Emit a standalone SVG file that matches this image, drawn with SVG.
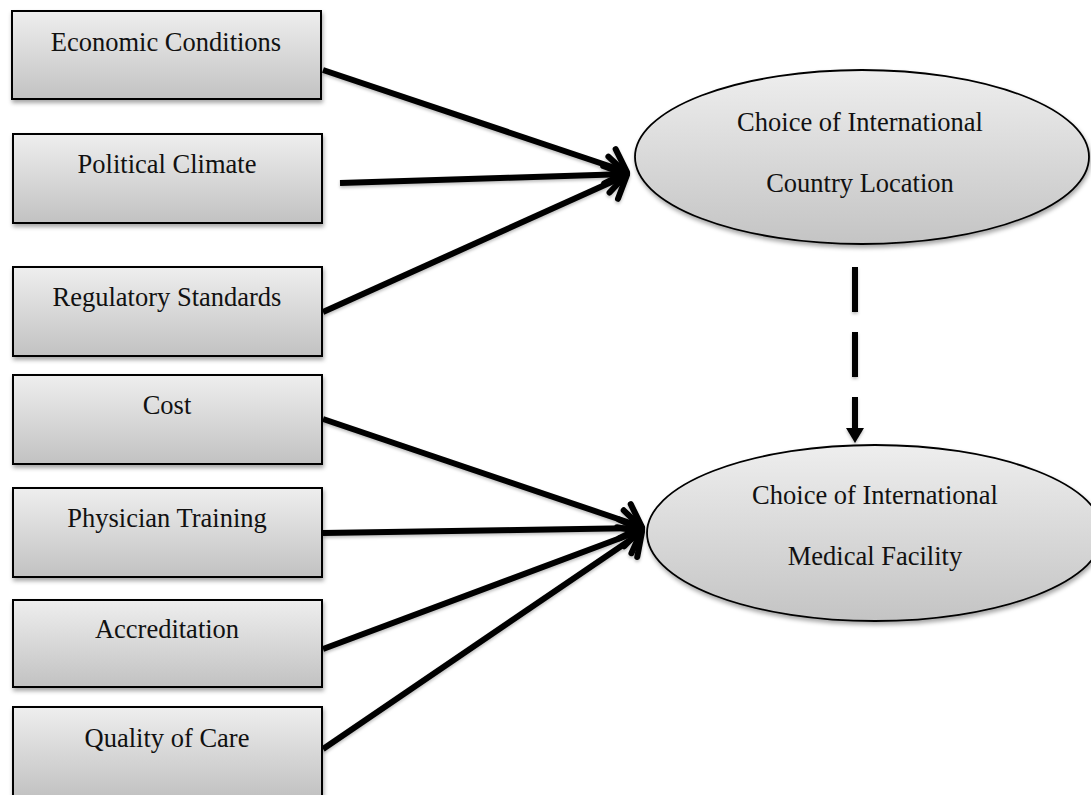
<svg xmlns="http://www.w3.org/2000/svg" width="1091" height="795" viewBox="0 0 1091 795">
  <defs>
    <linearGradient id="boxGrad" x1="0" y1="0" x2="0" y2="1">
      <stop offset="0" stop-color="#eeeeee"/>
      <stop offset="1" stop-color="#c2c2c2"/>
    </linearGradient>
    <linearGradient id="ellGrad" x1="0" y1="0" x2="0" y2="1">
      <stop offset="0" stop-color="#eeeeee"/>
      <stop offset="1" stop-color="#c4c4c4"/>
    </linearGradient>
    <filter id="shadow" x="-10%" y="-10%" width="125%" height="130%">
      <feDropShadow dx="1" dy="3" stdDeviation="2" flood-color="#000" flood-opacity="0.35"/>
    </filter>
    <filter id="lshadow" x="-10%" y="-20%" width="125%" height="140%">
      <feDropShadow dx="0" dy="2" stdDeviation="1.5" flood-color="#000" flood-opacity="0.25"/>
    </filter>
    <marker id="chev" markerUnits="userSpaceOnUse" viewBox="0 0 30 40" refX="24" refY="20" markerWidth="30" markerHeight="40" orient="auto" overflow="visible">
      <path d="M6,2 L24,20 L6,38" fill="none" stroke="#000" stroke-width="6" stroke-linecap="round" stroke-linejoin="round"/>
    </marker>
    <marker id="tri" markerUnits="userSpaceOnUse" viewBox="0 0 16 18" refX="0" refY="9" markerWidth="16" markerHeight="18" orient="auto" overflow="visible">
      <path d="M0,0 L15,9 L0,18 Z" fill="#000"/>
    </marker>
  </defs>
  <style>
    .box { fill: url(#boxGrad); stroke: #000; stroke-width: 2; filter: url(#shadow); }
    .ell { fill: url(#ellGrad); stroke: #000; stroke-width: 1.8; filter: url(#shadow); }
    .lbl { font-family: "Liberation Serif", "Times New Roman", serif; font-size: 26.5px; fill: #111; text-anchor: middle; }
    .conn { stroke: #000; stroke-width: 6; fill: none; marker-end: url(#chev); }
    .dash { stroke: #000; stroke-width: 6; fill: none; stroke-dasharray: 45 20; marker-end: url(#tri); }
  </style>
  <rect width="1091" height="795" fill="#ffffff"/>

  <g id="connectors" filter="url(#lshadow)">
    <line class="conn" x1="323" y1="70" x2="627" y2="172"/>
    <line class="conn" x1="340" y1="183" x2="627" y2="174"/>
    <line class="conn" x1="323" y1="312" x2="627" y2="175"/>
    <line class="conn" x1="323" y1="419" x2="642" y2="527"/>
    <line class="conn" x1="323" y1="533" x2="642" y2="528"/>
    <line class="conn" x1="323" y1="649" x2="642" y2="530"/>
    <line class="conn" x1="323" y1="749" x2="642" y2="532"/>
    <line class="dash" x1="855" y1="267" x2="855" y2="428"/>
  </g>

  <g id="node-economic">
    <rect class="box" x="12" y="11" width="309" height="88"/>
    <text class="lbl" x="166" y="51">Economic Conditions</text>
  </g>
  <g id="node-political">
    <rect class="box" x="13" y="134" width="309" height="89"/>
    <text class="lbl" x="167" y="173">Political Climate</text>
  </g>
  <g id="node-regulatory">
    <rect class="box" x="13" y="267" width="309" height="89"/>
    <text class="lbl" x="167" y="306">Regulatory Standards</text>
  </g>
  <g id="node-cost">
    <rect class="box" x="13" y="375" width="309" height="89"/>
    <text class="lbl" x="167" y="414">Cost</text>
  </g>
  <g id="node-physician">
    <rect class="box" x="13" y="488" width="309" height="89"/>
    <text class="lbl" x="167" y="527">Physician Training</text>
  </g>
  <g id="node-accreditation">
    <rect class="box" x="13" y="600" width="309" height="87"/>
    <text class="lbl" x="167" y="638">Accreditation</text>
  </g>
  <g id="node-quality">
    <rect class="box" x="13" y="707" width="309" height="90"/>
    <text class="lbl" x="167" y="747">Quality of Care</text>
  </g>

  <g id="node-country">
    <ellipse class="ell" cx="862" cy="157" rx="227" ry="87"/>
    <text class="lbl" x="860" y="131">Choice of International</text>
    <text class="lbl" x="860" y="192">Country Location</text>
  </g>
  <g id="node-facility">
    <ellipse class="ell" cx="875" cy="533" rx="228" ry="88"/>
    <text class="lbl" x="875" y="504">Choice of International</text>
    <text class="lbl" x="875" y="565">Medical Facility</text>
  </g>
</svg>
